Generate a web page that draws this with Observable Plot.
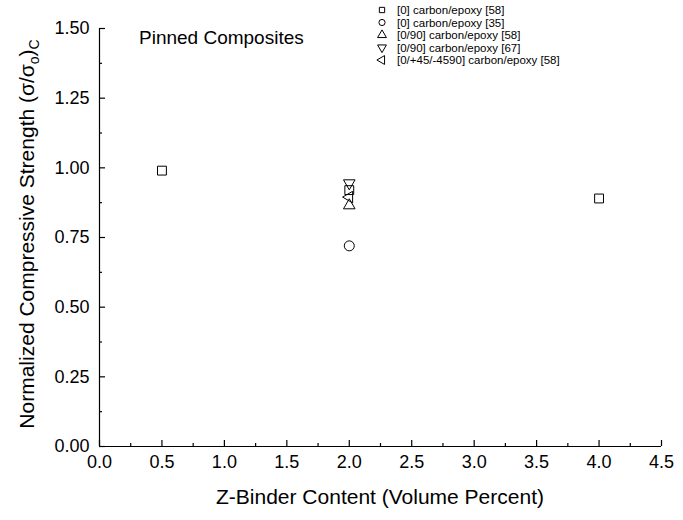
<!DOCTYPE html>
<html><head><meta charset="utf-8">
<script src="https://cdn.jsdelivr.net/npm/d3@7"></script>
<script src="https://cdn.jsdelivr.net/npm/@observablehq/plot@0.6"></script>
<style>body{margin:0;background:#fff;font-family:"Liberation Sans",Arial,sans-serif}</style>
</head><body><div id="chart"></div>
<script>
const seriesNames = ["[0] carbon/epoxy [58]","[0] carbon/epoxy [35]","[0/90] carbon/epoxy [58]","[0/90] carbon/epoxy [67]","[0/+45/-4590] carbon/epoxy [58]"];
const sq58 = [{x:0.5,y:0.99},{x:2.0,y:0.92},{x:4.0,y:0.89}];
const circ35 = [{x:2.0,y:0.72}];
const triUp58 = [{x:2.0,y:0.865}];
const triDown67 = [{x:2.0,y:0.945}];
const triLeft58 = [{x:2.0,y:0.895}];
const xTicks = [0,0.5,1,1.5,2,2.5,3,3.5,4,4.5];
const xMinor = [0.25,0.75,1.25,1.75,2.25,2.75,3.25,3.75,4.25];
const yTicks = [0,0.25,0.5,0.75,1,1.25,1.5];
const yMinor = [0.125,0.375,0.625,0.875,1.125,1.375];

const tri = (ang) => ({draw(ctx, size){
  const r = Math.sqrt(size / (3*Math.sqrt(3)/4));
  for (let i=0;i<3;i++){
    const a = ang + i*2*Math.PI/3;
    const px = r*Math.cos(a), py = r*Math.sin(a);
    if(i===0) ctx.moveTo(px,py); else ctx.lineTo(px,py);
  }
  ctx.closePath();
}});
const symUp = tri(-Math.PI/2), symDown = tri(Math.PI/2), symLeft = tri(Math.PI);
const symbols = [d3.symbolSquare, d3.symbolCircle, symUp, symDown, symLeft];
const sizes = [5, 5, 4.3, 4.3, 4.3];
const datasets = [sq58, circ35, triUp58, triDown67, triLeft58];

const font = '"Liberation Sans", Arial, sans-serif';
const plot = Plot.plot({
  width: 683, height: 520,
  marginLeft: 99, marginRight: 22, marginTop: 28, marginBottom: 74,
  style: {fontFamily: font, background: "#fff", color: "#000"},
  x: {domain: [0, 4.5]},
  y: {domain: [0, 1.5]},
  marks: [
    Plot.ruleY([0], {stroke: "#000", strokeWidth: 1.2}),
    Plot.ruleX([0], {stroke: "#000", strokeWidth: 1.2}),
    Plot.axisX({ticks: xTicks, tickSize: -6, tickPadding: 15, tickFormat: d3.format(".1f"), fontSize: 18, label: null, strokeWidth: 1.2}),
    Plot.axisX({ticks: xMinor, tickSize: -3, text: null, label: null, strokeWidth: 1.2}),
    Plot.axisY({ticks: yTicks, tickSize: -6, tickPadding: 16, tickFormat: d3.format(".2f"), fontSize: 18, label: null, strokeWidth: 1.2}),
    Plot.axisY({ticks: yMinor, tickSize: -3, text: null, label: null, strokeWidth: 1.2}),
    ...datasets.map((d, i) => Plot.dot(d, {x: "x", y: "y", symbol: symbols[i], r: sizes[i], fill: "none", stroke: "#000", strokeWidth: 1}))
  ]
});
document.getElementById("chart").appendChild(plot);
const svg = d3.select(plot);
// y label with subscripts
const yl = svg.append("text").attr("transform", "translate(34,234) rotate(-90)")
  .attr("text-anchor", "middle").attr("font-size", 21).attr("font-family", font).attr("fill", "#000");
yl.append("tspan").text("Normalized Compressive Strength (σ/σ");
yl.append("tspan").attr("font-size", 14).attr("dy", 5).text("o");
yl.append("tspan").attr("dy", -5).text(")");
yl.append("tspan").attr("font-size", 14).attr("dy", 5).text("C");
svg.append("text").attr("x", 380).attr("y", 504).attr("text-anchor", "middle")
  .attr("font-size", 21).attr("font-family", font).attr("fill", "#000").text("Z-Binder Content (Volume Percent)");
svg.append("text").attr("x", 139).attr("y", 44).attr("text-anchor", "start").attr("font-size", 19).attr("font-family", font).attr("fill", "#000").text("Pinned Composites");
// legend
const lg = svg.append("g").attr("font-family", font).attr("font-size", 11.5).attr("text-anchor", "start");
const legSizes = [28, 30, 34, 34, 34];
seriesNames.forEach((name, i) => {
  const y = 10 + i * 12.5;
  lg.append("path").attr("transform", `translate(382,${y})`)
    .attr("d", d3.symbol(symbols[i], legSizes[i])())
    .attr("fill", "none").attr("stroke", "#000");
  lg.append("text").attr("x", 397).attr("y", y).attr("dy", "0.35em").text(name);
});
</script></body></html>
